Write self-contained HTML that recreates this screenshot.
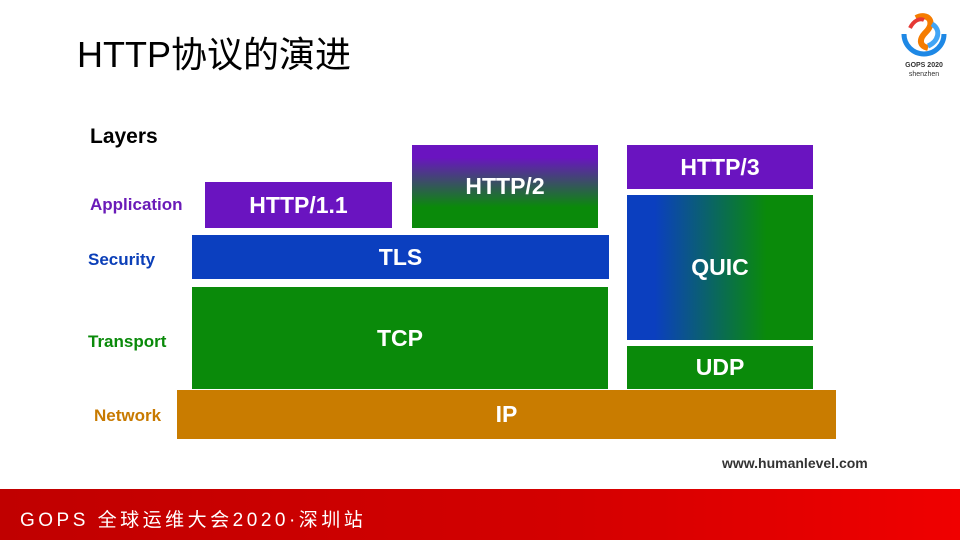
<!DOCTYPE html>
<html><head><meta charset="utf-8"><style>
body{margin:0;width:960px;height:540px;position:relative;background:#fff;overflow:hidden;font-family:"Liberation Sans","Noto Sans CJK SC",sans-serif}
.a{position:absolute}
.b{position:absolute;color:#fff;font-weight:bold;font-size:23px;display:flex;align-items:center;justify-content:center}
.l{position:absolute;font-weight:bold;font-size:17px}
</style></head><body>
<div class="a" style="left:77px;top:26px;font-size:36px;color:#000">HTTP协议的演进</div>
<svg class="a" style="left:898px;top:10px" width="52" height="50" viewBox="0 0 52 50">
<path d="M6 24 A20 20 0 0 0 46 24" fill="none" stroke="#1e88e5" stroke-width="5"/>
<path d="M18 8 C30 2 38 12 28 22 C20 30 22 36 30 38" fill="none" stroke="#f57c00" stroke-width="6"/>
<path d="M34 14 C44 20 40 32 30 36" fill="none" stroke="#42a5f5" stroke-width="5"/>
<path d="M12 18 C16 10 22 8 26 10" fill="none" stroke="#e53935" stroke-width="4"/>
</svg>
<div class="a" style="left:898px;top:62px;width:52px;text-align:center;font-size:7px;font-weight:bold;color:#333">GOPS 2020</div>
<div class="a" style="left:898px;top:71px;width:52px;text-align:center;font-size:7px;color:#333">shenzhen</div>

<div class="l" style="left:90px;top:125px;font-size:21px;color:#000">Layers</div>
<div class="l" style="left:90px;top:195px;color:#6a1bb8">Application</div>
<div class="l" style="left:88px;top:250px;color:#0b3fb8">Security</div>
<div class="l" style="left:88px;top:332px;color:#0a8a0a">Transport</div>
<div class="l" style="left:94px;top:406px;color:#c87a00">Network</div>

<div class="b" style="left:205px;top:182px;width:187px;height:46px;background:#6a14c0">HTTP/1.1</div>
<div class="b" style="left:412px;top:145px;width:186px;height:83px;background:linear-gradient(#6a14c0 0%,#6a14c0 15%,#0a8a0a 75%)">HTTP/2</div>
<div class="b" style="left:627px;top:145px;width:186px;height:44px;background:#6a14c0">HTTP/3</div>
<div class="b" style="left:192px;top:235px;width:417px;height:44px;background:#0b3fbf">TLS</div>
<div class="b" style="left:627px;top:195px;width:186px;height:145px;background:linear-gradient(90deg,#0b3fbf 0%,#0b3fbf 15%,#0a8a0a 75%)">QUIC</div>
<div class="b" style="left:192px;top:287px;width:416px;height:102px;background:#0a8a0a">TCP</div>
<div class="b" style="left:627px;top:346px;width:186px;height:43px;background:#0a8a0a">UDP</div>
<div class="b" style="left:177px;top:390px;width:659px;height:49px;background:#c97c00">IP</div>
<div class="a" style="left:722px;top:455px;font-size:14px;font-weight:bold;color:#333">www.humanlevel.com</div>

<div class="a" style="left:0;top:489px;width:960px;height:51px;background:linear-gradient(90deg,#c00000,#d40000 60%,#f00000)"></div>
<div class="a" style="left:20px;top:505px;font-size:19px;color:#fff;letter-spacing:3.5px">GOPS 全球运维大会2020·深圳站</div>
</body></html>
